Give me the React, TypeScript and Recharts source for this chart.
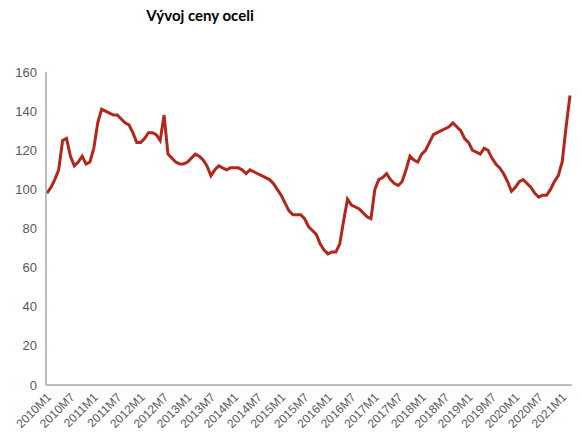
import React from "react";
import { LineChart, Line, XAxis, YAxis } from "recharts";

// monthly index, 2010M1 .. 2021M3
const years = [2010, 2011, 2012, 2013, 2014, 2015, 2016, 2017, 2018, 2019, 2020, 2021];
const v2010 = [98, 101, 105, 110, 125, 126, 117, 112, 114, 117, 113, 114];
const v2011 = [121, 134, 141, 140, 139, 138, 138, 136, 134, 133, 129, 124];
const v2012 = [124, 126, 129, 129, 128, 125, 138, 118, 116, 114, 113, 113];
const v2013 = [114, 116, 118, 117, 115, 112, 107, 110, 112, 111, 110, 111];
const v2014 = [111, 111, 110, 108, 110, 109, 108, 107, 106, 105, 103, 100];
const v2015 = [97, 93, 89, 87, 87, 87, 85, 81, 79, 77, 72, 69];
const v2016 = [67, 68, 68, 72, 84, 95, 92, 91, 90, 88, 86, 85];
const v2017 = [100, 105, 106, 108, 105, 103, 102, 104, 110, 117, 115, 114];
const v2018 = [118, 120, 124, 128, 129, 130, 131, 132, 134, 132, 130, 126];
const v2019 = [124, 120, 119, 118, 121, 120, 116, 113, 111, 108, 104, 99];
const v2020 = [101, 104, 105, 103, 101, 98, 96, 97, 97, 100, 104, 107];
const v2021 = [114, 132, 148];
const yearValues = [v2010, v2011, v2012, v2013, v2014, v2015, v2016, v2017, v2018, v2019, v2020, v2021];
const yTicks = [0, 20, 40, 60, 80, 100, 120, 140, 160];

const data = years.flatMap((y, yi) =>
  yearValues[yi].map((v, i) => ({ month: `${y}M${i + 1}`, value: v }))
);

const AngleTick = ({ x, y, payload }: any) => (
  <text
    x={x + 5}
    y={y + 5}
    transform={`rotate(-45, ${x + 5}, ${y + 5})`}
    textAnchor="end"
    fontSize={12}
    fill="#595959"
    fontFamily="'Liberation Sans', Arial, sans-serif"
  >
    {payload.value}
  </text>
);

export default function App() {
  return (
    <div style={{ position: "absolute", left: 0, top: 0, width: 581, height: 441, background: "#fff" }}>
      <div
        style={{
          position: "absolute",
          left: 0,
          width: 400,
          top: 6,
          textAlign: "center",
          fontFamily: "Lato, 'Open Sans', sans-serif",
          fontWeight: 700,
          fontSize: 15,
          color: "#000",
        }}
      >
        Vývoj ceny oceli
      </div>
      <LineChart width={581} height={441} data={data} margin={{ top: 72, right: 9, left: 0, bottom: 0 }}>
        <XAxis
          dataKey="month"
          interval={5}
          tick={<AngleTick />}
          tickLine={false}
          axisLine={{ stroke: "#a6a6a6", strokeWidth: 1.5 }}
          height={56}
          padding={{ left: 1, right: 2 }}
        />
        <YAxis
          domain={[0, 160]}
          ticks={yTicks}
          width={46}
          tickLine={false}
          axisLine={{ stroke: "#a6a6a6", strokeWidth: 1.5 }}
          tick={{ fontSize: 13, fill: "#595959", fontFamily: "'Liberation Sans', Arial, sans-serif" }}
          tickMargin={3}
        />
        <Line
          type="linear"
          dataKey="value"
          stroke="#b3261a"
          strokeWidth={3}
          dot={false}
          isAnimationActive={false}
        />
      </LineChart>
    </div>
  );
}
